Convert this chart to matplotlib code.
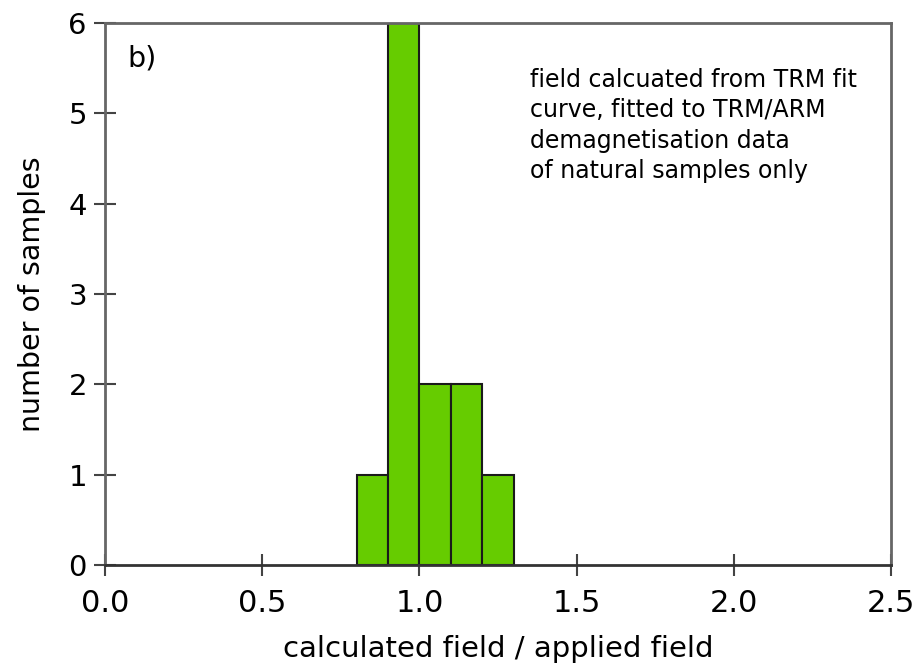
import matplotlib
matplotlib.use("Agg")
import matplotlib.pyplot as plt

# Histogram of calculated / applied field ratios
bin_edges = [0.8, 0.9, 1.0, 1.1, 1.2, 1.3]
counts = [1, 6, 2, 2, 1]
x_ticks = [0.0, 0.5, 1.0, 1.5, 2.0, 2.5]
y_ticks = [0, 1, 2, 3, 4, 5, 6]

plt.rcParams['font.family'] = ['DejaVu Sans']

fig = plt.figure(figsize=(9.18, 6.66), dpi=100)
ax = fig.add_axes([0.1144, 0.1517, 0.8562, 0.8138])

lefts = bin_edges[:-1]
widths = [b - a for a, b in zip(bin_edges[:-1], bin_edges[1:])]
ax.bar(lefts, counts, width=widths, align='edge', color='#66cc00',
       edgecolor='#1a1a1a', linewidth=1.5, zorder=2)

ax.set_xlim(0, 2.5)
ax.set_ylim(0, 6)
ax.set_xticks(x_ticks)
ax.set_xticklabels([f"{v:.1f}" for v in x_ticks])
ax.set_yticks(y_ticks)

for s in ax.spines.values():
    s.set_color('#666666')
    s.set_linewidth(2)
ax.spines['bottom'].set_color('#333333')
ax.tick_params(axis='both', direction='inout', length=16, width=1.5,
               color='#444444')
ax.tick_params(axis='x', labelsize=22, pad=9.5)
ax.tick_params(axis='y', labelsize=21, pad=5)

ax.set_xlabel('calculated field / applied field', fontsize=21, labelpad=12)
ax.set_ylabel('number of samples', fontsize=20.5, labelpad=16)

ax.text(0.029, 0.96, 'b)', transform=ax.transAxes, fontsize=20.5, va='top')
ax.text(0.541, 0.917, 'field calcuated from TRM fit\ncurve, fitted to TRM/ARM\n'
        'demagnetisation data\nof natural samples only',
        transform=ax.transAxes, fontsize=17, va='top', linespacing=1.34)

fig.savefig('out.png', dpi=100)
